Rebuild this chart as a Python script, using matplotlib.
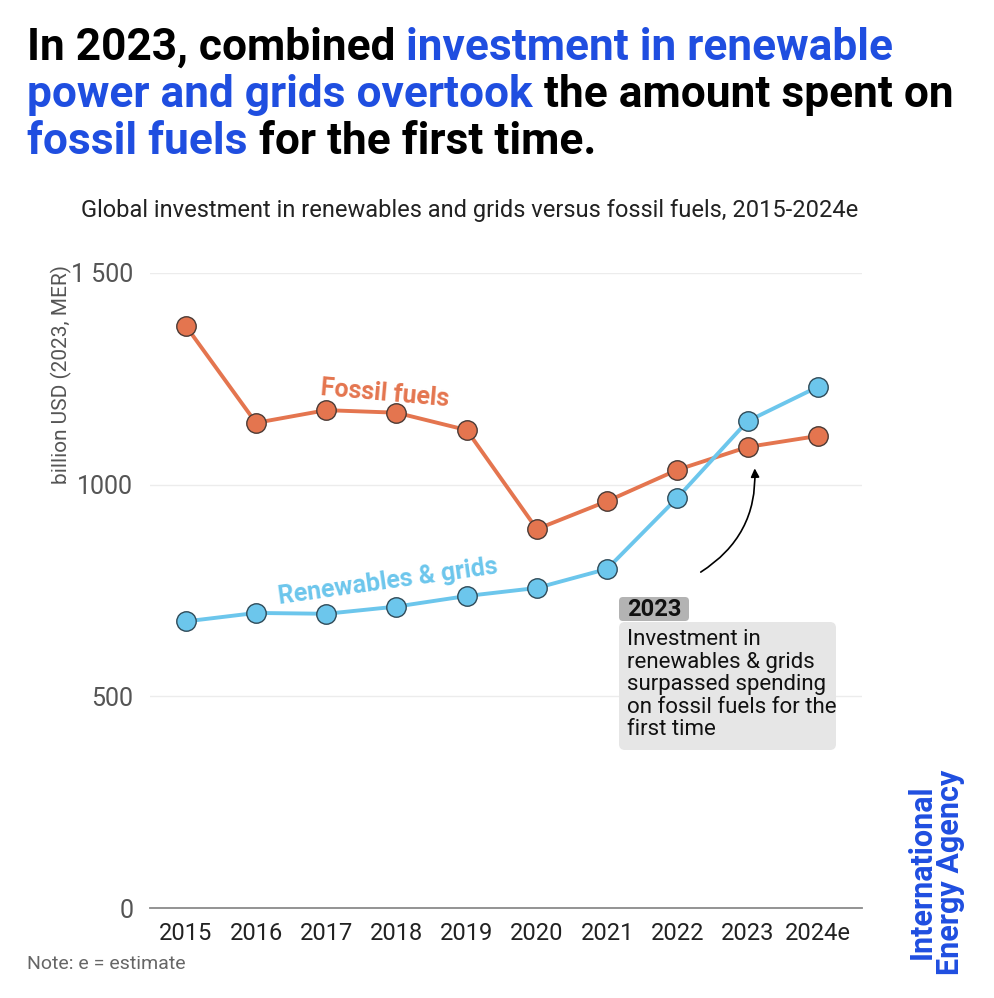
import matplotlib
matplotlib.use("Agg")
import matplotlib.pyplot as plt
from matplotlib.patches import FancyBboxPatch
from matplotlib.ticker import FixedLocator

years = [2015, 2016, 2017, 2018, 2019, 2020, 2021, 2022, 2023, 2024]
year_labels = ["2015", "2016", "2017", "2018", "2019", "2020", "2021", "2022", "2023", "2024e"]
fossil = [1375, 1146, 1176, 1170, 1129, 895, 961, 1035, 1089, 1115]
renew = [677, 697, 695, 712, 737, 756, 801, 969, 1150, 1231]
y_ticks = [0, 500, 1000, 1500]
y_tick_labels = ["0", "500", "1000", "1 500"]

ORANGE = "#E4754F"
BLUE_L = "#6CC6EC"
BLUE_T = "#1F4EE0"
FONT = "Roboto"

W, H = 994, 998
fig = plt.figure(figsize=(W / 100, H / 100), dpi=100)
fig.patch.set_facecolor("white")
renderer = fig.canvas.get_renderer()

def fx(px):
    return px / W

def fy(py):
    return 1 - py / H

AX_L, AX_R, AX_T, AX_B = 150, 862, 273, 908
ax = fig.add_axes([fx(AX_L), fy(AX_B), fx(AX_R) - fx(AX_L), fy(AX_T) - fy(AX_B)])
ax.set_xlim(2014.49, 2024.63)
ax.set_ylim(0, 1500)
for s in ["top", "right", "left"]:
    ax.spines[s].set_visible(False)
ax.spines["bottom"].set_color("#8a8a8a")
ax.spines["bottom"].set_linewidth(1.3)
ax.yaxis.set_major_locator(FixedLocator(y_ticks))
ax.set_yticklabels(y_tick_labels, fontsize=18, color="#555555", family=FONT)
ax.set_xticks(years)
ax.set_xticklabels(year_labels, fontsize=17, color="#222222", family=FONT)
ax.tick_params(axis="both", length=0)
ax.tick_params(axis="y", pad=12)
ax.tick_params(axis="x", pad=10)
for t in y_ticks[1:]:
    ax.axhline(t, color="#ececec", lw=1, zorder=0)

ax.plot(years, fossil, color=ORANGE, lw=2.8, marker="o", ms=14,
        mfc=ORANGE, mec="#4a3a35", mew=1.0, zorder=3, clip_on=False)
ax.plot(years, renew, color=BLUE_L, lw=2.8, marker="o", ms=14,
        mfc=BLUE_L, mec="#2f4a58", mew=1.0, zorder=4, clip_on=False)

ax.set_ylabel("billion USD (2023, MER)", fontsize=15, color="#555555", family=FONT)
ax.yaxis.set_label_coords((72 - AX_L) / (AX_R - AX_L), (AX_B - 374) / (AX_B - AX_T))

# series labels
fig.text(fx(385), fy(394), "Fossil fuels", fontsize=18, fontweight="bold", color=ORANGE,
         family=FONT, ha="center", va="center", rotation=-5)
fig.text(fx(388), fy(582), "Renewables & grids", fontsize=18, fontweight="bold", color=BLUE_L,
         family=FONT, ha="center", va="center", rotation=8)

# annotation
hdr = FancyBboxPatch((fx(619), fy(621)), fx(689) - fx(619), fy(597) - fy(621),
                     boxstyle="round,pad=0,rounding_size=0.004", transform=fig.transFigure,
                     facecolor="#b3b3b3", edgecolor="none")
fig.patches.append(hdr)
body = FancyBboxPatch((fx(619), fy(750)), fx(836) - fx(619), fy(622) - fy(750),
                      boxstyle="round,pad=0,rounding_size=0.006", transform=fig.transFigure,
                      facecolor="#e6e6e6", edgecolor="none")
fig.patches.append(body)
fig.text(fx(627), fy(609), "2023", fontsize=17, fontweight="bold", color="#111111",
         family=FONT, va="center", ha="left")
fig.text(fx(627), fy(629), "Investment in\nrenewables & grids\nsurpassed spending\non fossil fuels for the\nfirst time",
         fontsize=16, color="#111111", family=FONT, va="top", ha="left", linespacing=1.1)
ax.annotate("", xy=(2023.1, 1045), xytext=(2022.3, 790),
            arrowprops=dict(arrowstyle="-|>,head_length=0.5,head_width=0.25", color="black", lw=1.2,
                            connectionstyle="arc3,rad=0.3"))

# title with coloured segments, font size fitted to the reference line width
title_lines = [
    [("In 2023, combined ", "black"), ("investment in renewable", BLUE_T)],
    [("power and grids overtook", BLUE_T), (" the amount spent on", "black")],
    [("fossil fuels", BLUE_T), (" for the first time.", "black")],
]
probe = fig.text(0, 0, "".join(s for s, _ in title_lines[1]), fontsize=40, fontweight="bold", family=FONT)
pw = probe.get_window_extent(renderer=renderer).width
probe.remove()
tsize = 40 * 925 / pw
line_y = [48, 95, 142]
for segs, ly in zip(title_lines, line_y):
    x = fx(27)
    for txt, col in segs:
        t = fig.text(x, fy(ly), txt, fontsize=tsize, fontweight="bold", color=col,
                     family=FONT, va="center", ha="left")
        bb = t.get_window_extent(renderer=renderer)
        x += bb.width / W

fig.text(fx(470), fy(210), "Global investment in renewables and grids versus fossil fuels, 2015-2024e",
         fontsize=17, color="#222222", family=FONT, ha="center", va="center")

fig.text(fx(27), fy(964), "Note: e = estimate", fontsize=14, color="#666666", family=FONT,
         ha="left", va="center")

fig.text(fx(936), fy(872), "International\nEnergy Agency", fontsize=22, fontweight="bold",
         color=BLUE_T, family=FONT, rotation=90, ha="center", va="center", linespacing=0.95)

fig.savefig("out.png", dpi=100, facecolor="white")
